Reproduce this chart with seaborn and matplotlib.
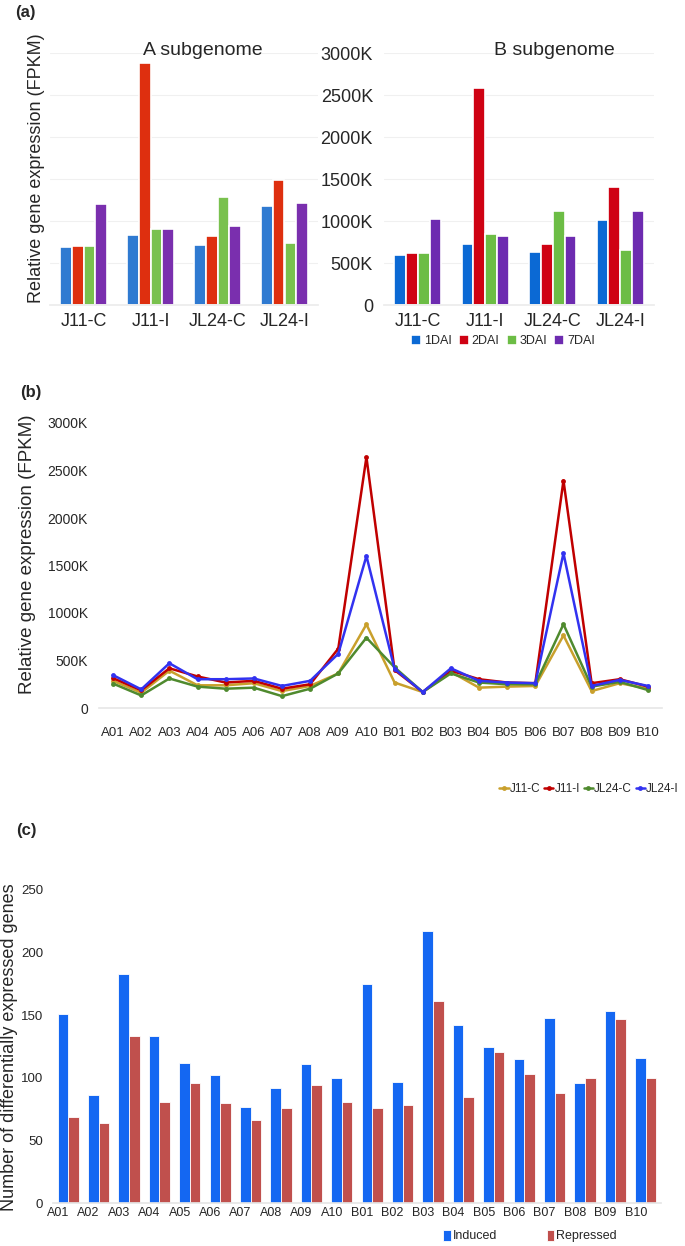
import os
import pandas as pd
import seaborn as sns
import matplotlib.pyplot as plt
from matplotlib import font_manager
from matplotlib.font_manager import FontProperties
from matplotlib.ticker import FuncFormatter
from matplotlib.transforms import ScaledTranslation

W, H = 685, 1246

# (a) relative expression (thousands of FPKM)
samples = ["J11-C", "J11-I", "JL24-C", "JL24-I"]
stages = ["1DAI", "2DAI", "3DAI", "7DAI"]
a_1dai = [685, 837, 717, 1179]
a_2dai = [705, 2880, 817, 1486]
a_3dai = [705, 908, 1283, 741]
a_7dai = [1199, 904, 944, 1215]
b_1dai = [598, 721, 633, 1012]
b_2dai = [622, 2582, 729, 1410]
b_3dai = [625, 841, 1120, 653]
b_7dai = [1028, 817, 825, 1116]

# (b) expression per chromosome (thousands of FPKM)
chroms = ["A01", "A02", "A03", "A04", "A05", "A06", "A07", "A08", "A09", "A10",
          "B01", "B02", "B03", "B04", "B05", "B06", "B07", "B08", "B09", "B10"]
j11_c = [286, 161, 393, 239, 239, 261, 178, 232, 364, 880,
         268, 168, 380, 214, 225, 232, 764, 178, 261, 203]
j11_i = [314, 186, 418, 332, 268, 286, 203, 250, 625, 2640,
         400, 168, 393, 303, 268, 261, 2394, 261, 303, 225]
jl24_c = [257, 132, 311, 225, 203, 214, 125, 203, 364, 740,
          428, 168, 364, 268, 250, 250, 882, 225, 275, 189]
jl24_i = [346, 196, 471, 303, 303, 311, 232, 286, 571, 1600,
          411, 168, 418, 286, 268, 261, 1629, 232, 296, 232]

# (c) number of DEGs per chromosome
induced = [151, 86, 183, 133, 112, 102, 77, 92, 111, 100,
           175, 97, 217, 142, 125, 115, 148, 96, 153, 116]
repressed = [69, 64, 133, 81, 96, 80, 66, 76, 94, 81,
             76, 78, 161, 85, 121, 103, 88, 100, 147, 100]

sns.set_theme(style="white")
plt.rcParams["font.family"] = ["Liberation Sans", "DejaVu Sans"]

# a narrow face for the crowded chromosome axes, if one is installed
narrow_path = None
for f in font_manager.fontManager.ttflist:
    if os.path.basename(f.fname) == "LiberationSansNarrow-Regular.ttf":
        narrow_path = f.fname


def tick_font(size):
    if narrow_path:
        return FontProperties(fname=narrow_path, size=size + 1.5)
    return FontProperties(family="Liberation Sans", size=size)


def box(l, t, r, b):
    return [l / W, 1 - b / H, (r - l) / W, (b - t) / H]


kfmt = FuncFormatter(lambda v, _: "0" if v == 0 else f"{v:.0f}K")

fig = plt.figure(figsize=(W / 100, H / 100), dpi=100)

# ---- (a)
df_a = pd.DataFrame({
    "sample": samples * 4,
    "stage": [s for s in stages for _ in samples],
    "fpkm": a_1dai + a_2dai + a_3dai + a_7dai,
})
df_b_sub = pd.DataFrame({
    "sample": samples * 4,
    "stage": [s for s in stages for _ in samples],
    "fpkm": b_1dai + b_2dai + b_3dai + b_7dai,
})
ax_a1 = fig.add_axes(box(50, 53, 318, 305))
ax_a2 = fig.add_axes(box(384, 53, 654, 305))
pal_a = ["#2f7ad1", "#de2f0f", "#79c14e", "#7a2fae"]
pal_b = ["#0b69d4", "#cf0213", "#6cbd45", "#6d2bb0"]
for ax, df, pal, title, tx in [(ax_a1, df_a, pal_a, "A subgenome", 0.57),
                               (ax_a2, df_b_sub, pal_b, "B subgenome", 0.63)]:
    sns.barplot(data=df, x="sample", y="fpkm", hue="stage", order=samples,
                hue_order=stages, palette=pal, saturation=1, width=0.7, errorbar=None,
                edgecolor="white", linewidth=1.2, ax=ax, legend=ax is ax_a2)
    ax.set_ylim(0, 3000)
    ax.set_xlim(-0.5, 3.5)
    ax.set_yticks(range(0, 3001, 500))
    ax.yaxis.grid(True, color="#f0f0f0", lw=0.8)
    ax.set_axisbelow(True)
    sns.despine(ax=ax, left=True)
    ax.spines["bottom"].set_color("#ececec")
    ax.set_xlabel("")
    ax.set_ylabel("")
    ax.tick_params(axis="x", length=0, pad=6, labelsize=13)
    ax.text(tx, 1.01, title, transform=ax.transAxes, ha="center", va="center", fontsize=14)
ax_a1.tick_params(axis="y", length=0, labelleft=False)
ax_a2.yaxis.set_major_formatter(kfmt)
ax_a2.tick_params(axis="y", length=0, pad=8, labelsize=13)
sns.move_legend(ax_a2, "center", bbox_to_anchor=(503 / W, 1 - 341 / H),
                bbox_transform=fig.transFigure, ncol=4, frameon=False, title=None,
                fontsize=9, handlelength=0.8, handleheight=0.8, handletextpad=0.2,
                columnspacing=0.6)

# ---- (b)
lines = ["J11-C", "J11-I", "JL24-C", "JL24-I"]
df_line = pd.DataFrame({
    "chrom": chroms * 4,
    "line": [g for g in lines for _ in chroms],
    "fpkm": j11_c + j11_i + jl24_c + jl24_i,
})
ax_b = fig.add_axes(box(99, 423, 662, 708))
sns.lineplot(data=df_line, x="chrom", y="fpkm", hue="line", hue_order=lines,
             palette=["#c9a02c", "#c00000", "#4f8a2e", "#3232f0"], sort=False,
             marker="o", markersize=3.5, markeredgewidth=0, linewidth=1.8, ax=ax_b)
ax_b.set_ylim(0, 3000)
ax_b.set_xlim(-0.5, 19.5)
ax_b.set_yticks(range(0, 3001, 500))
ax_b.yaxis.set_major_formatter(kfmt)
sns.despine(ax=ax_b, left=True)
ax_b.spines["bottom"].set_color("#e6e6e6")
ax_b.spines["bottom"].set_linewidth(1.2)
ax_b.set_xlabel("")
ax_b.set_ylabel("")
ax_b.tick_params(axis="x", length=0, pad=14)
ax_b.tick_params(axis="y", length=0, pad=8)
for t in ax_b.get_xticklabels():
    t.set_fontproperties(tick_font(9.5))
for t in ax_b.get_yticklabels():
    t.set_fontproperties(tick_font(10))
sns.move_legend(ax_b, "center", bbox_to_anchor=(589 / W, 1 - 789 / H),
                bbox_transform=fig.transFigure, ncol=4, frameon=False, title=None,
                fontsize=8.5, handlelength=0.8, handletextpad=0.1, columnspacing=0.3,
                borderaxespad=0, borderpad=0)

# ---- (c)
df_c = pd.DataFrame({
    "chrom": chroms * 2,
    "type": ["Induced"] * len(chroms) + ["Repressed"] * len(chroms),
    "count": induced + repressed,
})
ax_c = fig.add_axes(box(53, 890, 661, 1203))
sns.barplot(data=df_c, x="chrom", y="count", hue="type", order=chroms,
            palette=["#1467f2", "#c0504d"], saturation=1, width=0.7, errorbar=None,
            edgecolor="white", linewidth=0.6, ax=ax_c)
ax_c.set_ylim(0, 250)
ax_c.set_xlim(-0.5, 19.5)
ax_c.set_yticks(range(0, 251, 50))
sns.despine(ax=ax_c, left=True)
ax_c.spines["bottom"].set_color("#e6e6e6")
ax_c.set_xlabel("")
ax_c.set_ylabel("")
ax_c.tick_params(axis="x", length=0, pad=3)
ax_c.tick_params(axis="y", length=0, pad=7)
shift = ScaledTranslation(-0.1, 0, fig.dpi_scale_trans)
for t in ax_c.get_xticklabels():
    t.set_fontproperties(tick_font(9))
    t.set_transform(t.get_transform() + shift)
for t in ax_c.get_yticklabels():
    t.set_fontproperties(tick_font(9.5))
sns.move_legend(ax_c, "center", bbox_to_anchor=(530 / W, 1 - 1236 / H),
                bbox_transform=fig.transFigure, ncol=2, frameon=False, title=None,
                fontsize=9, handlelength=0.6, handleheight=1.0, handletextpad=0.15,
                columnspacing=4.0)

# panel letters and axis titles
for x, y, s in [(15, 12, "(a)"), (20, 393, "(b)"), (16, 830, "(c)")]:
    fig.text(x / W, 1 - y / H, s, fontsize=12, weight="bold", va="center")
fig.text(37 / W, 1 - 168 / H, "Relative gene expression (FPKM)", rotation=90,
         ha="center", va="center", fontsize=13)
fig.text(28 / W, 1 - 554 / H, "Relative gene expression (FPKM)", rotation=90,
         ha="center", va="center", fontsize=13.5)
fig.text(10 / W, 1 - 1047 / H, "Number of differentially expressed genes", rotation=90,
         ha="center", va="center", fontsize=13)

fig.savefig("out.png", dpi=100)
